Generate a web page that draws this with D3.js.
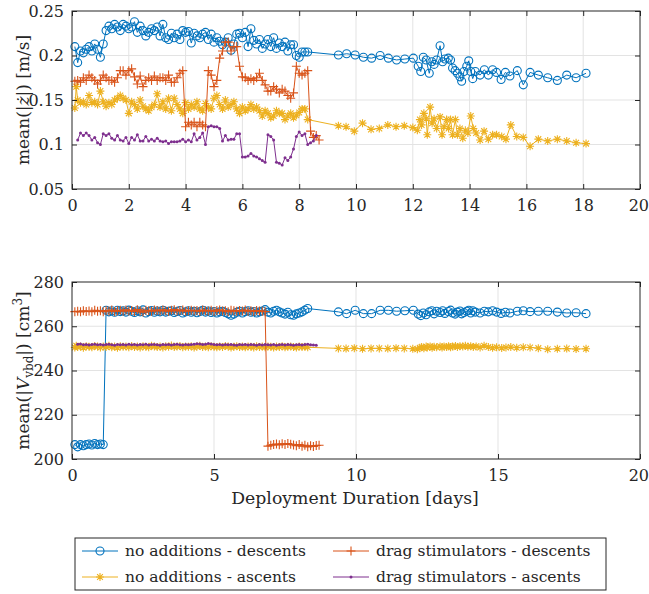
<!DOCTYPE html>
<html>
<head>
<meta charset="utf-8">
<title></title>
<style>
  body { margin: 0; background: #fff; }
  svg { display: block; font-family: "DejaVu Serif", serif; }
</style>
<script src="https://d3js.org/d3.v7.min.js"></script>
</head>
<body>
<script>
// ---- data ----
// no additions - descents
var tBlue = [0.1,0.2,0.3,0.4,0.5,0.6,0.7,0.8,0.9,1.0, 1.1,1.2,1.3,1.4,1.5,1.6,1.7,1.8,1.9,2.0,
  2.1,2.2,2.3,2.4,2.5,2.6,2.7,2.8,2.9,3.0, 3.1,3.2,3.3,3.4,3.5,3.6,3.7,3.8,3.9,4.0,
  4.1,4.2,4.3,4.4,4.5,4.6,4.7,4.8,4.9,5.0, 5.1,5.2,5.3,5.4,5.5,5.6,5.7,5.8,5.9,6.0,
  6.1,6.2,6.3,6.4,6.5,6.6,6.7,6.8,6.9,7.0, 7.1,7.2,7.3,7.4,7.5,7.6,7.7,7.8,7.9,8.0,
  8.1,8.2,8.3,
  9.38,9.67,9.97,10.26,10.55,10.85,11.14,11.43,11.72,12.02, 12.19,12.28,12.37,12.47,12.58,12.67,12.75,12.84,12.96,13.05,
  13.13,13.25,13.33,13.40,13.49,13.57,13.66,13.72,13.80,13.90, 13.97,14.04,14.11,14.20,14.37,14.52,14.66,14.81,14.95,15.11,
  15.26,15.42,15.68,15.89,16.13,16.42,16.75,17.09,17.42,17.75, 18.10];
var speedBlue = [0.21,0.192,0.205,0.203,0.207,0.21,0.205,0.213,0.207,0.198, 0.213,0.228,0.233,0.23,0.235,0.232,0.228,0.235,0.233,0.23,
  0.232,0.238,0.226,0.233,0.228,0.222,0.226,0.23,0.228,0.232, 0.222,0.235,0.22,0.218,0.225,0.22,0.224,0.218,0.228,0.226,
  0.227,0.214,0.225,0.222,0.22,0.224,0.226,0.218,0.224,0.215, 0.22,0.216,0.212,0.215,0.22,0.206,0.213,0.224,0.225,0.22,
  0.226,0.21,0.23,0.217,0.213,0.218,0.208,0.213,0.218,0.21, 0.22,0.208,0.214,0.21,0.215,0.205,0.212,0.212,0.2,0.198,
  0.204,0.204,0.204,
  0.2006,0.202,0.2006,0.198,0.197,0.2,0.197,0.195,0.196,0.197, 0.188,0.182,0.198,0.195,0.18,0.193,0.19,0.195,0.211,0.193,
  0.196,0.197,0.195,0.186,0.183,0.18,0.176,0.171,0.182,0.188, 0.194,0.182,0.174,0.182,0.178,0.184,0.178,0.184,0.181,0.173,
  0.181,0.177,0.183,0.167,0.181,0.178,0.175,0.172,0.178,0.175, 0.18];
var volBlue = [206.5,205.5,206.5,206,206.5,206.8,206.3,207,206.5,206.8, 206.5,267.2,266.5,267.0,266.3,267.2,266.6,267.0,266.4,267.3,
  266.8,266.2,267.0,266.5,267.4,266.0,266.6,267.1,266.3,266.9, 266.5,267.2,266.4,266.8,267.0,266.2,266.7,267.1,266.0,266.5,
  267.0,266.3,266.8,266.1,266.6,267.2,266.4,266.9,266.2,266.7, 266.0,266.5,266.8,266.2,265.6,265.0,265.5,266.3,266.8,266.0,
  266.6,267.0,266.3,266.7,266.0,266.5,266.9,267.5,266.4,266.0, 266.8,267.2,266.5,266.0,265.5,266.3,265.2,265.0,265.6,266.0,
  266.5,267.3,268.0,
  266.5,265.7,267.2,265.7,265.7,267.2,267.2,266.8,267.0,267.2, 265.5,264.8,266.0,265.2,266.5,267.0,265.6,266.8,266.2,267.0,
  265.8,266.7,267.3,266.0,265.5,266.4,266.9,265.6,266.2,266.8, 267.2,266.0,267.0,266.4,266.0,266.8,266.5,267.0,266.4,265.8,
  266.3,266.0,266.8,267.0,266.6,266.8,266.8,266.4,266.0,266.1, 265.7];

// drag stimulators - descents
var tOrange = [0.1,0.2,0.3,0.4,0.5,0.6,0.7,0.8,0.9,1.0, 1.1,1.2,1.3,1.4,1.5,1.6,1.7,1.8,1.9,2.0,
  2.1,2.2,2.3,2.4,2.5,2.6,2.7,2.8,2.9,3.0, 3.1,3.2,3.3,3.4,3.5,3.6,3.7,3.8,3.9,4.0,
  4.1,4.2,4.3,4.4,4.5,4.6,4.7,4.8,4.9,5.0, 5.1,5.2,5.3,5.4,5.5,5.6,5.7,5.8,5.9,6.0,
  6.1,6.2,6.3,6.4,6.5,6.6,6.7,6.8,6.9,7.0, 7.1,7.2,7.3,7.4,7.5,7.6,7.7,7.8,7.9,8.0,
  8.1,8.2,8.3,8.4,8.5,8.6,8.7];
var speedOrange = [0.171,0.172,0.17,0.175,0.172,0.178,0.175,0.172,0.168,0.172, 0.178,0.175,0.172,0.172,0.17,0.175,0.183,0.183,0.178,0.183,
  0.185,0.176,0.168,0.177,0.165,0.172,0.175,0.172,0.177,0.172, 0.175,0.175,0.172,0.178,0.17,0.17,0.175,0.18,0.183,0.12,
  0.125,0.122,0.125,0.12,0.125,0.122,0.12,0.183,0.178,0.165, 0.172,0.197,0.205,0.215,0.215,0.205,0.21,0.21,0.188,0.176,
  0.175,0.172,0.174,0.172,0.175,0.18,0.172,0.167,0.16,0.16, 0.165,0.162,0.158,0.162,0.16,0.155,0.152,0.158,0.188,0.18,
  0.178,0.18,0.183,0.115,0.108,0.11,0.105];
var volOrange = [266.6,266.8,266.5,267.0,266.7,266.9,266.6,267.2,266.8,267.0, 266.6,267.1,266.9,267.3,266.7,267.0,267.2,266.8,267.4,266.9,
  267.1,266.7,267.5,266.9,266.4,267.2,267.0,266.8,267.3,267.1, 266.9,267.4,267.0,266.8,267.2,267.5,266.9,267.1,267.3,266.8,
  267.0,267.2,266.9,267.1,266.8,267.3,267.0,266.9,267.2,266.7, 267.1,267.4,266.9,267.0,266.6,267.2,267.0,266.8,267.1,266.9,
  267.3,266.8,267.0,266.7,267.1,266.9,266.8,266.6,205.8,206.2, 206.5,206.8,206.4,206.9,206.6,207.0,206.7,206.3,206.0,206.5,
  205.8,206.2,205.5,206.0,205.7,206.1,206.2];

// no additions - ascents
var tYellow = [0.1,0.15,0.2,0.3,0.4,0.5,0.6,0.7,0.8,0.9, 1.0,1.1,1.2,1.3,1.4,1.5,1.6,1.7,1.8,1.9,
  2.0,2.1,2.2,2.3,2.4,2.5,2.6,2.7,2.8,2.9, 3.0,3.1,3.2,3.3,3.4,3.5,3.6,3.7,3.8,3.9,
  4.0,4.1,4.2,4.3,4.4,4.5,4.6,4.7,4.8,4.9, 5.0,5.1,5.2,5.3,5.4,5.5,5.6,5.7,5.8,5.9,
  6.0,6.1,6.2,6.3,6.4,6.5,6.6,6.7,6.8,6.9, 7.0,7.1,7.2,7.3,7.4,7.5,7.6,7.7,7.8,7.9,
  8.0,8.1,8.2,8.3,
  9.38,9.65,9.94,10.23,10.53,10.82,11.12,11.41,11.70,12.0, 12.16,12.25,12.31,12.39,12.47,12.51,12.61,12.68,12.75,12.84,
  12.96,13.03,13.10,13.19,13.26,13.33,13.40,13.50,13.57,13.66, 13.76,13.85,13.94,14.04,14.13,14.23,14.37,14.51,14.66,14.81,
  14.95,15.13,15.28,15.45,15.66,15.89,16.13,16.42,16.75,17.09, 17.42,17.75,18.10];
var speedYellow = [0.141,0.165,0.15,0.147,0.148,0.145,0.155,0.147,0.148,0.145,
  0.16,0.148,0.143,0.147,0.145,0.15,0.152,0.155,0.152,0.15, 0.135,0.148,0.145,0.14,0.15,0.143,0.14,0.138,0.142,0.145,
  0.157,0.142,0.148,0.14,0.152,0.138,0.152,0.145,0.14,0.135, 0.147,0.14,0.145,0.142,0.148,0.14,0.138,0.146,0.142,0.14,
  0.152,0.155,0.145,0.14,0.15,0.142,0.145,0.148,0.14,0.135, 0.142,0.138,0.14,0.145,0.14,0.142,0.138,0.132,0.138,0.135,
  0.13,0.132,0.138,0.135,0.135,0.128,0.132,0.135,0.13,0.133, 0.136,0.14,0.14,0.128,
  0.121,0.12,0.115,0.124,0.117,0.118,0.122,0.12,0.121,0.119, 0.116,0.128,0.122,0.135,0.129,0.111,0.142,0.124,0.129,0.118,
  0.131,0.111,0.12,0.128,0.118,0.128,0.111,0.128,0.111,0.118, 0.107,0.116,0.113,0.132,0.118,0.113,0.105,0.115,0.106,0.111,
  0.111,0.109,0.106,0.122,0.109,0.108,0.098,0.106,0.104,0.106, 0.104,0.102,0.101];
var volYellow = [250.4,251.2,250.6,250.9,250.3,251.0,250.7,250.5,251.1,250.8, 250.4,250.9,250.6,251.2,250.5,250.8,250.3,251.0,250.7,250.9,
  250.5,251.1,250.6,250.8,250.4,251.0,250.7,250.5,251.2,250.8, 250.6,250.9,250.4,251.0,250.7,251.3,250.6,250.8,251.1,250.5,
  250.9,250.7,251.0,250.4,250.8,251.2,250.6,250.9,250.5,251.0, 250.7,250.5,250.9,250.6,251.1,250.8,250.4,250.7,251.0,250.6,
  250.8,250.5,250.9,250.7,250.4,251.0,250.6,250.8,250.5,250.9, 250.7,250.4,250.8,250.6,251.0,250.5,250.7,250.9,250.6,250.4,
  250.8,250.6,250.7,250.5,
  250.0,249.9,250.1,249.8,250.0,250.0,249.9,250.1,250.0,249.8, 249.6,250.3,250.6,250.1,250.8,250.4,250.9,250.3,250.7,250.5,
  250.9,250.4,250.8,250.6,251.0,250.5,250.9,251.1,250.6,251.0, 250.8,251.2,250.7,251.0,250.6,250.9,250.4,251.2,250.6,250.3,
  250.5,250.2,250.4,250.6,250.3,250.5,250.4,250.1,249.6,249.8, 249.9,249.7,249.8];

// drag stimulators - ascents
var tPurple = [0.2,0.3,0.4,0.5,0.6,0.7,0.8,0.9,1.0,1.1, 1.2,1.3,1.4,1.5,1.6,1.7,1.8,1.9,2.0,2.1,
  2.2,2.3,2.4,2.5,2.6,2.7,2.8,2.9,3.0,3.1, 3.2,3.3,3.4,3.5,3.6,3.7,3.8,3.9,4.0,4.1,
  4.2,4.3,4.4,4.5,4.6,4.7,4.8,4.9,5.0,5.1, 5.2,5.3,5.4,5.5,5.6,5.7,5.8,5.9,6.0,6.1,
  6.2,6.3,6.4,6.5,6.6,6.7,6.8,6.9,7.0,7.1, 7.2,7.3,7.4,7.5,7.6,7.7,7.8,7.9,8.0,8.1,
  8.2,8.3,8.4,8.5,8.6];
var speedPurple = [0.105,0.113,0.11,0.113,0.11,0.105,0.108,0.102,0.1,0.112, 0.11,0.112,0.107,0.105,0.11,0.105,0.104,0.108,0.101,0.108,
  0.105,0.111,0.104,0.104,0.109,0.104,0.106,0.104,0.107,0.104, 0.103,0.104,0.101,0.103,0.103,0.103,0.104,0.106,0.103,0.105,
  0.103,0.112,0.105,0.108,0.113,0.1,0.12,0.121,0.12,0.12, 0.118,0.104,0.11,0.105,0.106,0.106,0.112,0.112,0.086,0.086,
  0.087,0.09,0.087,0.086,0.084,0.082,0.08,0.111,0.109,0.105, 0.08,0.079,0.077,0.085,0.082,0.086,0.095,0.109,0.114,0.11,
  0.112,0.1,0.102,0.104,0.11];
var volPurple = [251.9,252.0,251.6,251.8,251.5,251.7,251.9,251.6,251.8,251.5, 251.7,251.9,251.6,251.4,251.8,251.6,251.7,251.5,251.9,251.6,
  251.8,251.5,251.7,251.6,251.9,251.5,251.7,251.8,251.6,251.4, 251.7,251.6,251.8,251.5,251.7,251.9,251.6,251.5,251.8,251.6,
  251.7,251.9,252.1,252.0,251.8,251.9,252.2,252.0,251.7,251.6, 251.8,251.5,251.7,251.6,251.8,251.5,251.4,251.7,251.6,251.8,
  251.5,251.7,251.6,251.4,251.7,251.5,251.8,251.6,251.5,251.7, 251.4,251.6,251.8,251.5,251.7,251.6,251.4,251.6,251.7,251.5,
  251.8,251.9,251.6,251.5,251.4];

var legendLabels = ["no additions - descents", "drag stimulators - descents",
                    "no additions - ascents", "drag stimulators - ascents"];

var xTicksTop = [0,2,4,6,8,10,12,14,16,18,20];
var yTicksTop = [0.05,0.1,0.15,0.2,0.25];
var yTickLabelsTop = ["0.05","0.1","0.15","0.2","0.25"];
var xTicksBot = [0,5,10,15,20];
var yTicksBot = [200,220,240,260,280];

// ---- layout ----
var W = 649, H = 594;
var left = 72, right = 640;
var top1 = 11, bot1 = 189;
var top2 = 282, bot2 = 459;
var ink = "#262626";
var font = "DejaVu Serif, serif";

var svg = d3.select("body").append("svg").attr("width", W).attr("height", H);

var x = d3.scaleLinear().domain([0, 20]).range([left, right]);
var yTop = d3.scaleLinear().domain([0.05, 0.25]).range([bot1, top1]);
var yBot = d3.scaleLinear().domain([200, 280]).range([bot2, top2]);

var series = [
  {t: tBlue, a: speedBlue, b: volBlue, color: "#0072BD", marker: "circle"},
  {t: tYellow, a: speedYellow, b: volYellow, color: "#EDB120", marker: "star"},
  {t: tOrange, a: speedOrange, b: volOrange, color: "#D95319", marker: "plus"},
  {t: tPurple, a: speedPurple, b: volPurple, color: "#7E2F8E", marker: "dot"}
];

function drawMarker(g, kind, color, px, py) {
  if (kind == "circle") {
    g.append("circle").attr("cx", px).attr("cy", py).attr("r", 4)
      .attr("fill", "none").attr("stroke", color).attr("stroke-width", 1.1);
  } else if (kind == "plus") {
    g.append("path").attr("d", "M" + (px-4.5) + "," + py + "h9M" + px + "," + (py-4.5) + "v9")
      .attr("stroke", color).attr("stroke-width", 1.1).attr("fill", "none");
  } else if (kind == "star") {
    var s = 4, d = 2.9;
    g.append("path")
      .attr("d", "M" + (px-s) + "," + py + "h" + 2*s + "M" + px + "," + (py-s) + "v" + 2*s +
                 "M" + (px-d) + "," + (py-d) + "l" + 2*d + "," + 2*d +
                 "M" + (px-d) + "," + (py+d) + "l" + 2*d + "," + (-2*d))
      .attr("stroke", color).attr("stroke-width", 1.1).attr("fill", "none");
  } else {
    g.append("circle").attr("cx", px).attr("cy", py).attr("r", 1.5).attr("fill", color);
  }
}

function panel(y, yTop_, yBot_, xt, yt, ytl, key) {
  var g = svg.append("g");
  // grid
  g.append("g").selectAll("line").data(xt.slice(1, -1)).enter().append("line")
    .attr("x1", d => x(d)).attr("x2", d => x(d)).attr("y1", yTop_).attr("y2", yBot_)
    .attr("stroke", "#e3e3e3").attr("stroke-width", 1);
  g.append("g").selectAll("line").data(yt.slice(1, -1)).enter().append("line")
    .attr("y1", d => y(d)).attr("y2", d => y(d)).attr("x1", left).attr("x2", right)
    .attr("stroke", "#e3e3e3").attr("stroke-width", 1);

  // data
  series.forEach(function(s) {
    var pts = s.t.map((t, i) => [t, s[key][i]]);
    var line = d3.line().x(d => x(d[0])).y(d => y(d[1]));
    g.append("path").datum(pts).attr("d", line)
      .attr("fill", "none").attr("stroke", s.color).attr("stroke-width", 1);
    var mg = g.append("g");
    pts.forEach(p => drawMarker(mg, s.marker, s.color, x(p[0]), y(p[1])));
  });

  // axes with inward ticks on all sides
  var fmt = function(d) { return ytl ? ytl[yt.indexOf(d)] : d; };
  var ax = [
    [d3.axisBottom(x).tickValues(xt).tickSize(-5).tickPadding(11), "translate(0," + yBot_ + ")", true],
    [d3.axisTop(x).tickValues(xt).tickSize(-5).tickFormat(""), "translate(0," + yTop_ + ")", false],
    [d3.axisLeft(y).tickValues(yt).tickSize(-5).tickPadding(8).tickFormat(fmt), "translate(" + left + ",0)", true],
    [d3.axisRight(y).tickValues(yt).tickSize(-5).tickFormat(""), "translate(" + right + ",0)", false]
  ];
  ax.forEach(function(a, k) {
    var ag = g.append("g").attr("transform", a[1]).call(a[0]);
    ag.select(".domain").remove();
    ag.selectAll("line").attr("stroke", ink);
    ag.selectAll("text").attr("fill", ink).attr("font-size", "16px")
      .attr("font-family", font);
    // keep the last x label inside the page edge
    if (k == 0) ag.selectAll("text").filter(d => d == 20).attr("text-anchor", "end").attr("x", 8.5);
  });
  g.append("rect").attr("x", left).attr("y", yTop_).attr("width", right - left).attr("height", yBot_ - yTop_)
    .attr("fill", "none").attr("stroke", ink).attr("stroke-width", 1);
  return g;
}

panel(yTop, top1, bot1, xTicksTop, yTicksTop, yTickLabelsTop, "a");
panel(yBot, top2, bot2, xTicksBot, yTicksBot, null, "b");

// y labels
var yl1 = svg.append("text").attr("transform", "translate(29," + (top1 + bot1) / 2 + ") rotate(-90)")
  .attr("text-anchor", "middle").attr("fill", ink).attr("font-size", "17px").attr("font-family", font);
yl1.append("tspan").text("mean(|");
yl1.append("tspan").attr("font-style", "italic").text("ż");
yl1.append("tspan").text("|) [m/s]");

var yl2 = svg.append("text").attr("transform", "translate(29," + (top2 + bot2) / 2 + ") rotate(-90)")
  .attr("text-anchor", "middle").attr("fill", ink).attr("font-size", "17px").attr("font-family", font);
yl2.append("tspan").text("mean(|");
yl2.append("tspan").attr("font-style", "italic").text("V");
yl2.append("tspan").attr("font-size", "12px").attr("dy", 4).text("vbd");
yl2.append("tspan").attr("dy", -4).text("|) [cm");
yl2.append("tspan").attr("font-size", "12px").attr("dy", -7).text("3");
yl2.append("tspan").attr("dy", 7).text("]");

// x label
svg.append("text").attr("x", (left + right) / 2 - 1).attr("y", 504)
  .attr("text-anchor", "middle").attr("fill", ink).attr("font-size", "17.3px").attr("font-family", font)
  .text("Deployment Duration [days]");

// legend
var lg = svg.append("g");
lg.append("rect").attr("x", 75).attr("y", 538).attr("width", 531).attr("height", 52)
  .attr("fill", "#fff").attr("stroke", ink).attr("stroke-width", 1);
var legendOrder = [0, 2, 1, 3];
legendLabels.forEach(function(lab, i) {
  var s = series[legendOrder[i]];
  var cx = i % 2 == 0 ? 82 : 333;
  var cy = i < 2 ? 551 : 577;
  lg.append("line").attr("x1", cx).attr("x2", cx + 36).attr("y1", cy).attr("y2", cy)
    .attr("stroke", s.color).attr("stroke-width", 1);
  drawMarker(lg, s.marker, s.color, cx + 18, cy);
  lg.append("text").attr("x", cx + 43).attr("y", cy + 5).attr("fill", ink)
    .attr("font-size", "15.5px").attr("font-family", font).text(lab);
});
</script>
</body>
</html>
